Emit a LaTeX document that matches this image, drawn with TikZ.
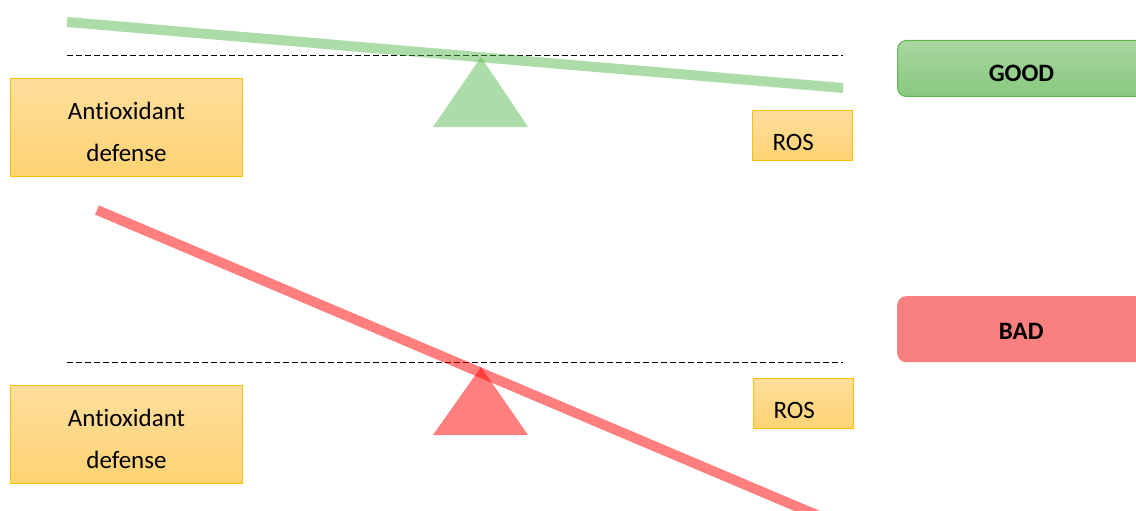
\documentclass[tikz,border=0pt]{standalone}
\usepackage{fontspec}
\setmainfont[Ligatures={NoCommon}]{Carlito}
\begin{document}
\begin{tikzpicture}[x=1pt,y=-1pt,
  txt/.style={font=\fontsize{25}{42}\selectfont},
  aobox/.style={txt, draw=boxborder, line width=1pt, top color=boxtop, bottom color=boxbot,
     minimum width=232pt, minimum height=98pt, text width=200pt, align=center, inner sep=0pt, text depth=34pt},
  rosbox/.style={txt, draw=boxborder, line width=1pt, top color=boxtop, bottom color=boxbot,
     minimum width=100pt, minimum height=50pt, text width=60pt, inner xsep=20pt, inner ysep=0pt, align=left, text height=30pt, text depth=0pt},
  verdict/.style={font=\fontsize{25}{28}\selectfont\bfseries, rounded corners=9pt,
     minimum width=248pt, inner sep=0pt, text depth=0pt},
  beam/.style={line width=10pt},
  refline/.style={draw=black, line width=1pt, dash pattern=on 5.5pt off 3.5pt},
]
\definecolor{boxtop}{HTML}{FFDE9C}
\definecolor{boxbot}{HTML}{FFD373}
\definecolor{boxborder}{HTML}{FFC000}
\definecolor{gtop}{HTML}{A9D6A1}
\definecolor{gbot}{HTML}{88C97E}
\definecolor{gborder}{HTML}{5DB352}
\definecolor{beamgreen}{HTML}{52B548}
\definecolor{badred}{HTML}{FA8080}
\useasboundingbox (0,0) rectangle (1136,511);
\clip (0,0) rectangle (1136,511);

% ---------- top (good) balance ----------
\coordinate (gl) at (67,22);
\coordinate (gr) at (843,88);
\coordinate (d1l) at (67,56);
\coordinate (d1r) at (843,56);
\draw[refline] (d1l) -- (d1r);
\fill[beamgreen, opacity=0.48] (481,57) -- (528,127) -- (433,127) -- cycle;
\draw[beam, draw=beamgreen, draw opacity=0.48] (gl) -- (gr);

\node[aobox, anchor=north west] (ao1) at (10,78) {Antioxidant\\defense};
\node[rosbox, anchor=north west] (ros1) at (752,110) {ROS};
\node[verdict, anchor=north west, minimum height=56pt, text height=26pt, draw=gborder, line width=1pt, top color=gtop, bottom color=gbot] (good) at (897,40) {GOOD};

% ---------- bottom (bad) balance ----------
\coordinate (rl) at (97,210);
\coordinate (rr) at (819,516);
\coordinate (d2l) at (67,362);
\coordinate (d2r) at (843,362);
\draw[refline] (d2l) -- (d2r);
\fill[red, opacity=0.5] (481,367) -- (528,435) -- (433,435) -- cycle;
\draw[beam, draw=red, draw opacity=0.5] (rl) -- (rr);

\node[aobox, anchor=north west] (ao2) at (10,385) {Antioxidant\\defense};
\node[rosbox, anchor=north west] (ros2) at (753,378) {ROS};
\node[verdict, anchor=north west, minimum height=66pt, text height=20pt, fill=badred] (bad) at (897,296) {BAD};
\end{tikzpicture}
\end{document}
